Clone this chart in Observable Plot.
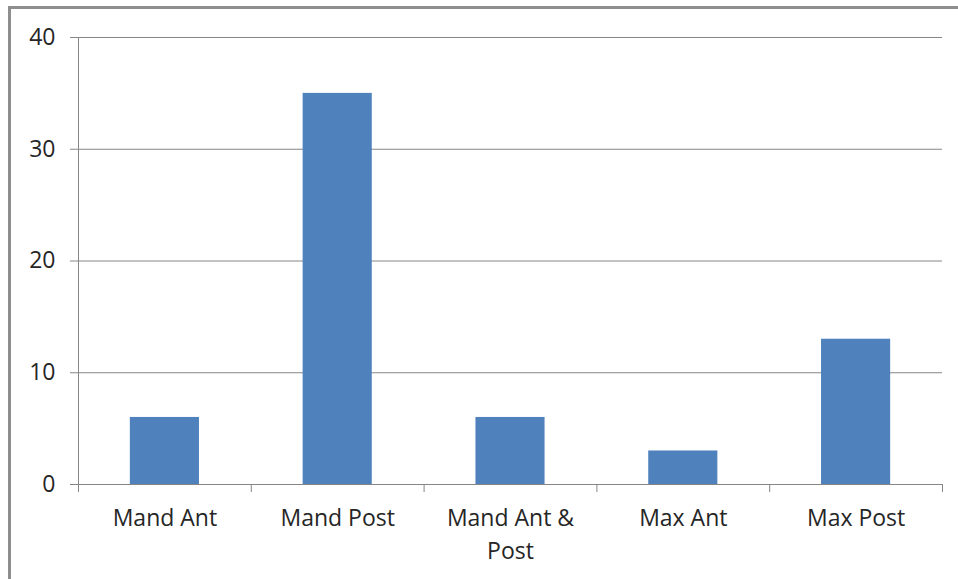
<!DOCTYPE html>
<html>
<head>
<meta charset="utf-8">
<script src="https://cdn.jsdelivr.net/npm/d3@7"></script>
<script src="https://cdn.jsdelivr.net/npm/@observablehq/plot@0.6"></script>
<style>
  html, body { margin: 0; padding: 0; background: #fff; overflow: hidden; }
  #wrap { position: relative; width: 958px; height: 579px; }
  #border { position: absolute; left: 8px; top: 6px; width: 1000px; height: 650px; border: 3px solid #8e8e8e; box-sizing: border-box; }
  #chart { position: absolute; left: 0; top: 0; }
</style>
</head>
<body>
<div id="wrap"><div id="border"></div><div id="chart"></div></div>
<script>
const categories = ["Mand Ant", "Mand Post", "Mand Ant & Post", "Max Ant", "Max Post"];
const values = [6, 35, 6, 3, 13];
const tickLabels = ["Mand Ant", "Mand Post", "Mand Ant &\nPost", "Max Ant", "Max Post"];
const yTicks = [0, 10, 20, 30, 40];

const W = 958, H = 579, ML = 78, MR = 16, MT = 37, MB = 95;
const step = (W - ML - MR) / categories.length;
const data = categories.map((c, i) => ({cat: c, value: values[i]}));
const gray = "#868686";

const chart = Plot.plot({
  width: W, height: H,
  marginLeft: ML, marginRight: MR, marginTop: MT, marginBottom: MB,
  style: {fontFamily: "'Open Sans', sans-serif", fontSize: "23px", color: "#262626", background: "transparent"},
  x: {domain: categories, paddingInner: 0.6, paddingOuter: 0.3, round: false, label: null},
  y: {domain: [0, 40], label: null},
  marks: [
    Plot.gridY(yTicks, {stroke: gray, strokeOpacity: 1}),
    Plot.barY(data, {x: "cat", y: "value", fill: "#4F81BD"}),
    Plot.ruleY([0], {stroke: gray}),
    Plot.frame({anchor: "left", stroke: gray}),
    Plot.ruleX(categories, {x: d => d, dx: -step / 2, y1: 0, y2: 0, insetBottom: -8, stroke: gray}),
    Plot.ruleX([categories[categories.length - 1]], {x: d => d, dx: step / 2, y1: 0, y2: 0, insetBottom: -8, stroke: gray}),
    Plot.axisY(yTicks, {tickSize: 8, tickPadding: 15, stroke: gray, fill: "#262626", tickFormat: d => String(d), label: null}),
    Plot.axisX({tickSize: 0, tickPadding: 19, fill: "#262626", lineHeight: 1.4, tickFormat: d => tickLabels[categories.indexOf(d)], label: null})
  ]
});
document.getElementById("chart").appendChild(chart);
</script>
</body>
</html>
